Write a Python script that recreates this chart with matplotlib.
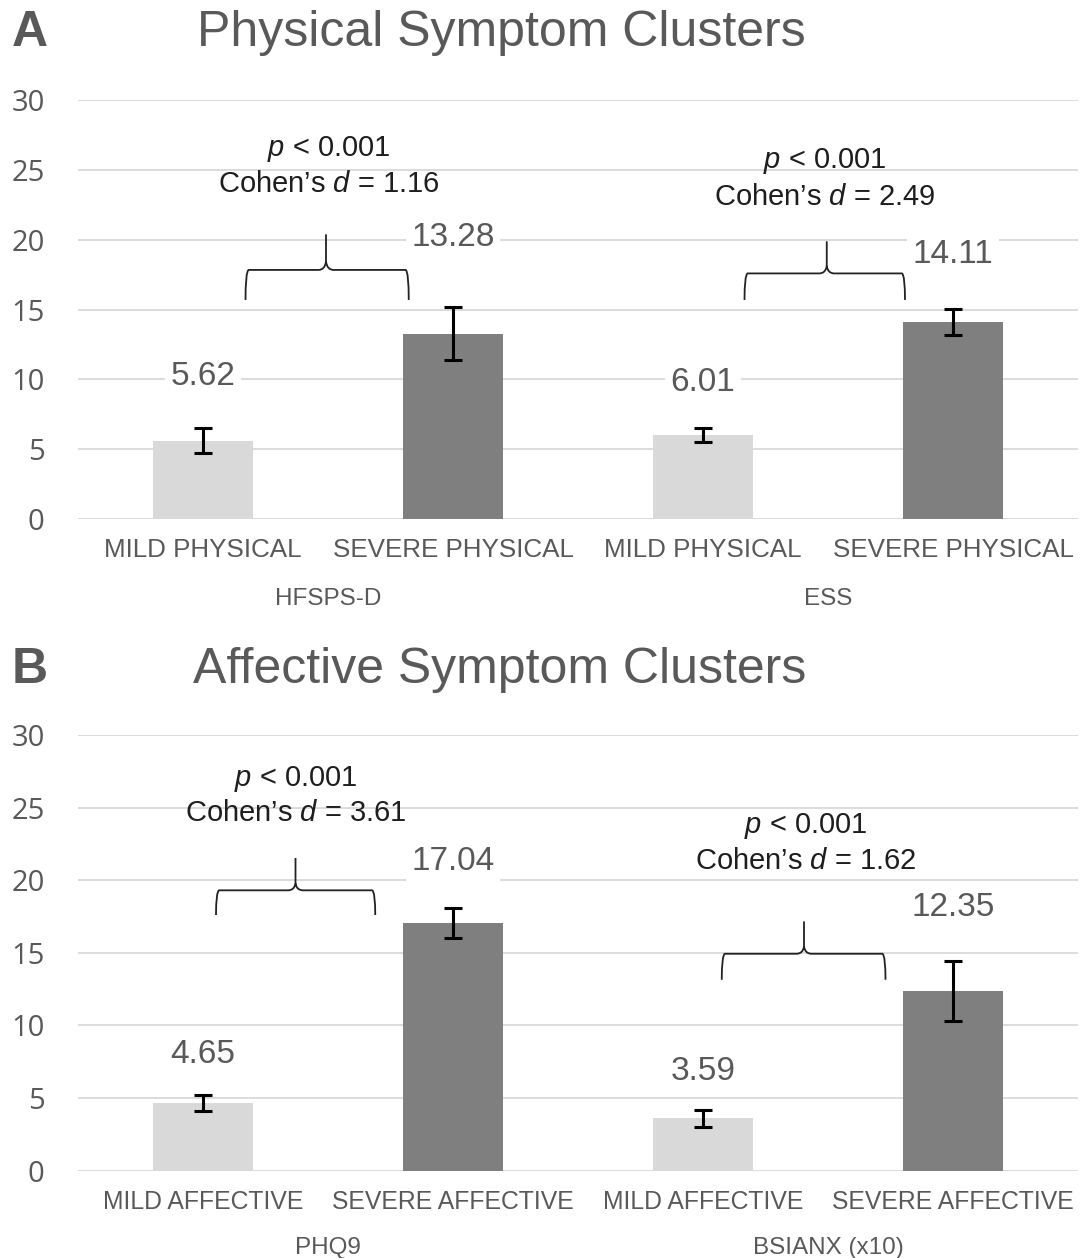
import matplotlib
matplotlib.use("Agg")
import matplotlib.pyplot as plt
from matplotlib.path import Path
from matplotlib.patches import PathPatch

# ---------------- data ----------------
cats_a = ["MILD PHYSICAL", "SEVERE PHYSICAL", "MILD PHYSICAL", "SEVERE PHYSICAL"]
groups_a = ["HFSPS-D", "ESS"]
vals_a = [5.62, 13.28, 6.01, 14.11]
errs_a = [0.9, 1.9, 0.5, 0.93]
stats_a = [("0.001", "1.16"), ("0.001", "2.49")]

cats_b = ["MILD AFFECTIVE", "SEVERE AFFECTIVE", "MILD AFFECTIVE", "SEVERE AFFECTIVE"]
groups_b = ["PHQ9", "BSIANX (x10)"]
vals_b = [4.65, 17.04, 3.59, 12.35]
errs_b = [0.52, 1.03, 0.6, 2.07]
stats_b = [("0.001", "3.61"), ("0.001", "1.62")]

yticks = [0, 5, 10, 15, 20, 25, 30]

# ---------------- style ----------------
plt.rcParams["font.family"] = ["Liberation Sans", "DejaVu Sans"]
plt.rcParams["mathtext.fontset"] = "custom"
plt.rcParams["mathtext.it"] = "Liberation Sans:italic"
plt.rcParams["mathtext.rm"] = "Liberation Sans"

GREY_TXT = "#595959"
LIGHT = "#d9d9d9"
DARK = "#7f7f7f"
GRID = "#d9d9d9"

W, H = 1082, 1258
fig = plt.figure(figsize=(W / 100, H / 100), dpi=100)


def px_axes(left, right, top, bottom):
    return fig.add_axes([left / W, 1 - bottom / H, (right - left) / W, (bottom - top) / H])


def brace(ax, xl, xr, xm, y_end, y_h, y_tip):
    dx = 0.03
    dy = (y_h - y_end) * 0.35
    verts = [
        (xl, y_end),
        (xl, y_h - dy * 0.2), (xl + dx * 0.4, y_h),
        (xm - dx, y_h),
        (xm - dx * 0.15, y_h), (xm, y_h + dy * 0.8),
        (xm, y_tip),
        (xm, y_h + dy * 0.8),
        (xm + dx * 0.15, y_h), (xm + dx, y_h),
        (xr - dx * 0.4, y_h),
        (xr, y_h - dy * 0.2), (xr, y_end),
    ]
    codes = [
        Path.MOVETO,
        Path.CURVE3, Path.CURVE3,
        Path.LINETO,
        Path.CURVE3, Path.CURVE3,
        Path.LINETO,
        Path.MOVETO,
        Path.CURVE3, Path.CURVE3,
        Path.LINETO,
        Path.CURVE3, Path.CURVE3,
    ]
    ax.add_patch(PathPatch(Path(verts, codes), facecolor="none",
                           edgecolor="#222222", lw=1.3, zorder=4))


def panel(ax, cats, groups, vals, errs, stats, cat_fs, lab_pos, brace_specs, stat_pos, grp_off):
    x = list(range(len(vals)))
    colors = [LIGHT, DARK, LIGHT, DARK]
    ax.bar(x, vals, width=0.4, color=colors, zorder=2)
    ax.errorbar(x, vals, yerr=errs, fmt="none", ecolor="black",
                elinewidth=2.2, capsize=6.5, capthick=2.2, zorder=3)
    ax.set_xlim(-0.5, 3.5)
    ax.set_ylim(0, 30)
    ax.set_yticks(yticks)
    ax.set_yticklabels([str(t) for t in yticks], fontfamily="Open Sans",
                       fontsize=21, color=GREY_TXT)
    ax.set_xticks(x)
    ax.set_xticklabels(cats, fontsize=cat_fs, color=GREY_TXT)
    ax.tick_params(axis="y", length=0, pad=24)
    ax.tick_params(axis="x", length=0, pad=14)
    for s in ax.spines.values():
        s.set_visible(False)
    ax.yaxis.grid(True, color=GRID, lw=1.3, zorder=0)
    ax.set_axisbelow(True)
    for xi, v, ly in zip(x, vals, lab_pos):
        ax.text(xi, ly, f"{v:.2f}", ha="center", va="center", fontsize=24,
                color=GREY_TXT, zorder=3,
                bbox=dict(facecolor="white", edgecolor="none", pad=4))
    for gi, g in enumerate(groups):
        ax.annotate(g, xy=(gi * 2 + 0.5, 0), xycoords=("data", "axes fraction"),
                    xytext=(0, grp_off), textcoords="offset points",
                    ha="center", va="center", fontsize=17.5, color=GREY_TXT)
    for (xl, xr, xm, ye, yh, yt), (sx, y1, y2), (p, d) in zip(brace_specs, stat_pos, stats):
        brace(ax, xl, xr, xm, ye, yh, yt)
        ax.text(sx, y1, f"$p$ < {p}", ha="center", va="center", fontsize=21,
                color="#1e1e1e", zorder=5)
        ax.text(sx, y2, f"Cohen\u2019s $d$ = {d}", ha="center", va="center",
                fontsize=21, color="#1e1e1e", zorder=5)


axA = px_axes(78, 1078, 100.4, 519)
panel(axA, cats_a, groups_a, vals_a, errs_a, stats_a, 18.7,
      [10.2, 20.2, 9.75, 18.95],
      [(0.17, 0.823, 0.492, 15.7, 17.85, 20.4), (2.166, 2.808, 2.495, 15.7, 17.6, 19.9)],
      [(0.504, 26.5, 24.0), (2.488, 25.65, 23.1)],
      -57.5)

axB = px_axes(78, 1078, 735, 1170.5)
panel(axB, cats_b, groups_b, vals_b, errs_b, stats_b, 17.8,
      [7.96, 21.3, 6.8, 18.1],
      [(0.052, 0.689, 0.37, 17.6, 19.3, 21.53), (2.075, 2.73, 2.404, 13.14, 14.93, 17.16)],
      [(0.372, 27.0, 24.6), (2.411, 23.7, 21.3)],
      -55.5)

fig.text(12 / W, 1 - 33 / H, "A", fontsize=36, fontweight="bold", color=GREY_TXT,
         ha="left", va="center")
fig.text(501 / W, 1 - 33 / H, "Physical Symptom Clusters", fontsize=36,
         color=GREY_TXT, ha="center", va="center")
fig.text(12 / W, 1 - 670 / H, "B", fontsize=36, fontweight="bold", color=GREY_TXT,
         ha="left", va="center")
fig.text(500 / W, 1 - 670 / H, "Affective Symptom Clusters", fontsize=36,
         color=GREY_TXT, ha="center", va="center")

fig.savefig("out.png", dpi=100, facecolor="white")
